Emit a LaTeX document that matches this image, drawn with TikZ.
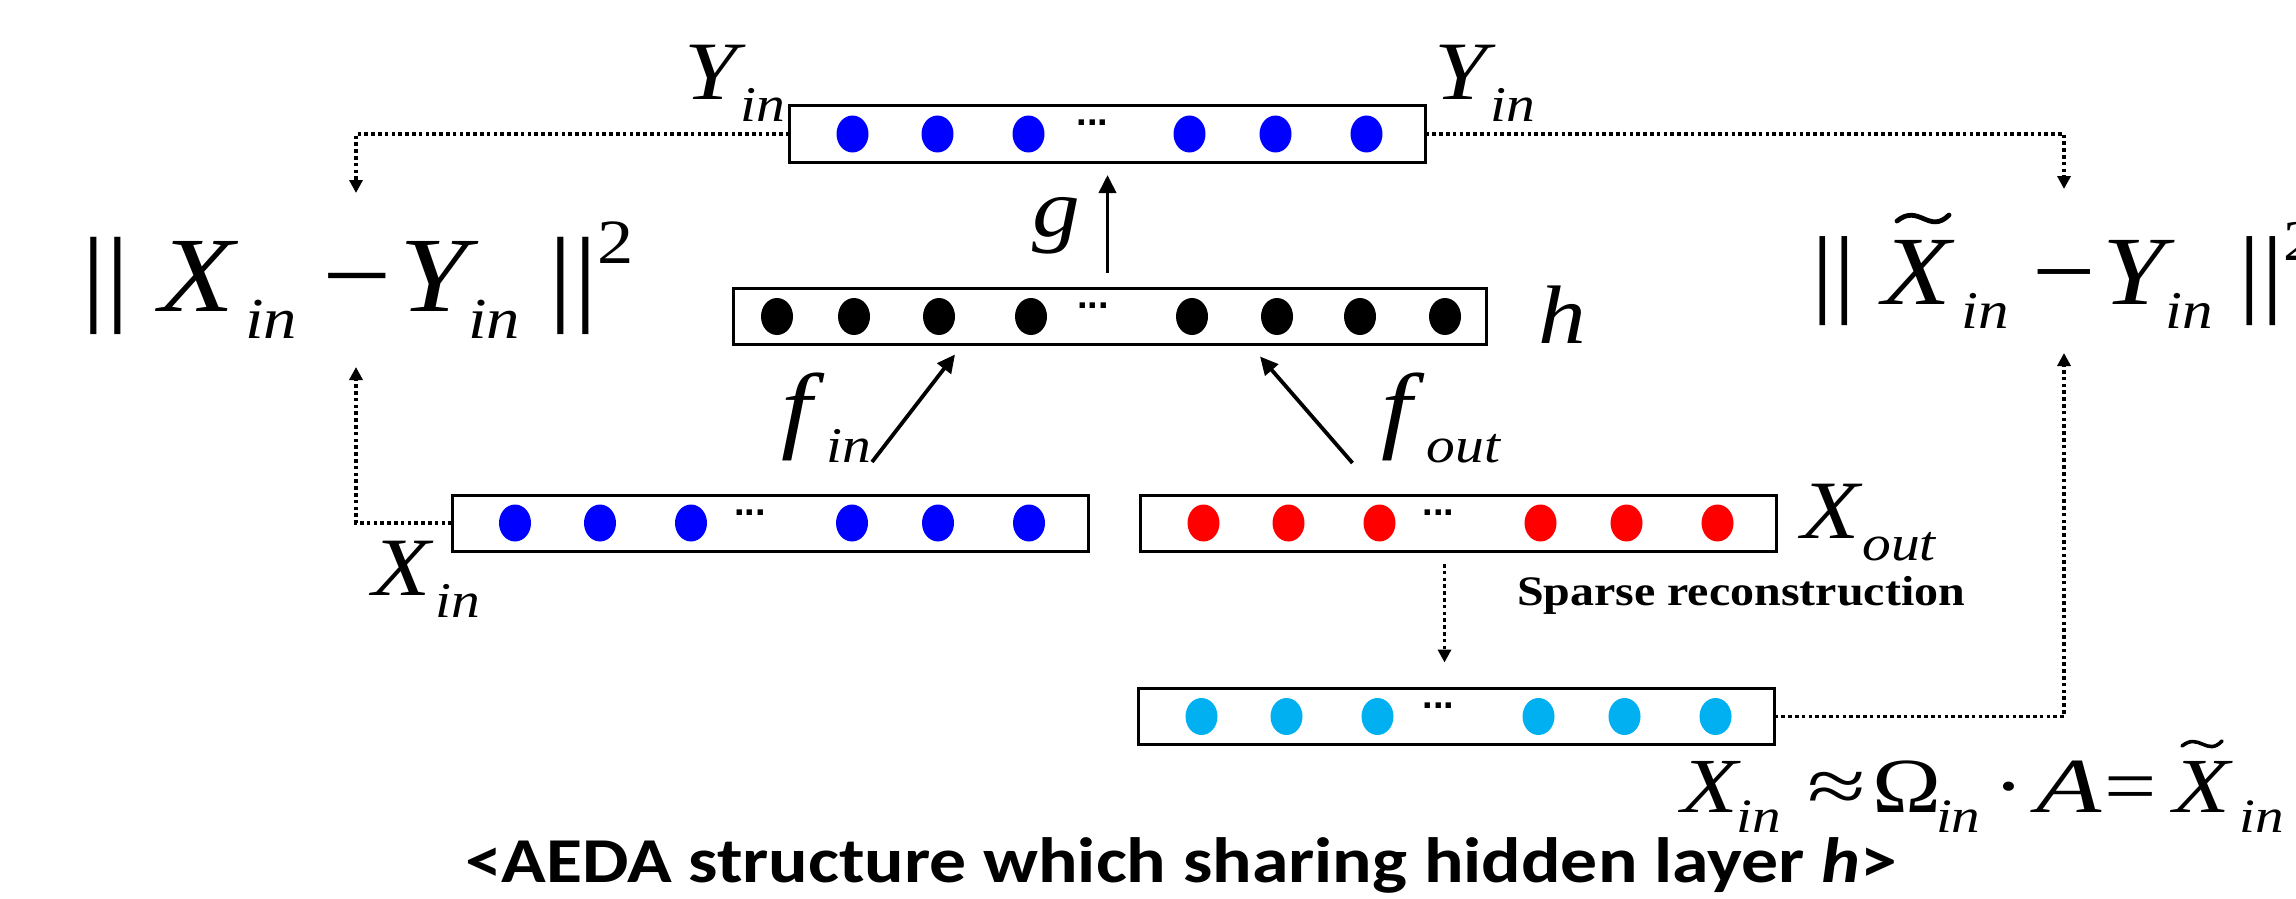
\documentclass[tikz,border=0pt]{standalone}
\usepackage{fontspec}
\setmainfont{Liberation Serif}
\newfontfamily\capfont{Carlito}
\newfontfamily\sansb{Liberation Sans}
\usetikzlibrary{arrows.meta,calc}
\definecolor{ltblue}{RGB}{0,176,240}
\newcommand\fsz[1]{\fontsize{#1}{#1}\selectfont}
\newcommand\lsub[3]{\raisebox{-#1}{\fsz{#2}\textit{#3}}}
\newcommand\normtxt{\fsz{53.5pt}||\kern12.5pt\textit{X}\kern3pt\lsub{13.5pt}{29pt}{in}\kern11.3pt−\kern3.1pt\textit{Y}\kern-4.6pt\lsub{13.5pt}{29pt}{in}\kern12.3pt||\raisebox{24pt}{\fsz{31.5pt}2}}
\newcommand\recontxt{\fsz{39pt}\textit{X}\kern-1.7pt\lsub{10pt}{24pt}{in}\kern10.9pt\scalebox{1.15}[1]{≈}\kern2.7pt Ω\kern-2.1pt\lsub{10pt}{24pt}{in}\kern5.3pt·\kern5.2pt\scalebox{1.15}[1]{\textit{A}}\kern0.9pt=\kern7.3pt\textit{X}\kern2.6pt\lsub{10pt}{24pt}{in}}
\newcommand\varlab[3]{\scalebox{1.15}[1]{\fsz{41.5pt}\textit{#2}\kern#1\lsub{11pt}{25pt}{#3}}}
\newcommand\flab[1]{\scalebox{1.15}[1]{\fsz{48pt}\textit{f}\kern1pt\lsub{11pt}{25pt}{#1}}}
\newcommand\oneletter[1]{\scalebox{1.15}[1]{\fsz{41.5pt}\textit{#1}}}
\begin{document}
\begin{tikzpicture}[x=0.5pt,y=-0.5pt,
  layerbox/.style={draw, line width=1.5pt, minimum width=318pt, minimum height=28pt, inner sep=0pt, outer sep=0pt},
  txt/.style={inner sep=0pt, outer sep=0pt},
  ellip/.style={inner sep=0pt, outer sep=0pt, font=\sansb\bfseries\fsz{19pt}},
  dotline/.style={line width=1.8pt, dash pattern=on 1.8pt off 1.6pt, -{Triangle[length=6.5pt,width=6.5pt]}},
  solidarrow/.style={line width=1.9pt, -{Triangle[length=9pt,width=8.5pt]}},
  tildesty/.style={line width=2.4pt, line cap=round}]
\useasboundingbox (0,0) rectangle (2296,899);

% layer boxes
\node[layerbox] (ytop) at (1107.5,134) {};
\node[layerbox, minimum width=376.5pt] (hbox) at (1109.5,316.5) {};
\node[layerbox] (xin) at (770,523) {};
\node[layerbox] (xout) at (1458.5,523) {};
\node[layerbox] (xrec) at (1456.5,716.5) {};

% units
\foreach \dx in {63,148,239,400,486,577}
  \fill[blue] ($(ytop.west)+(\dx,0)$) ellipse [x radius=8pt, y radius=9.25pt];
\foreach \dx in {44,121,206,298,459,544,627,712}
  \fill[black] ($(hbox.west)+(\dx,0)$) ellipse [x radius=8pt, y radius=9.25pt];
\foreach \dx in {63,148,239,400,486,577}
  \fill[blue] ($(xin.west)+(\dx,0)$) ellipse [x radius=8pt, y radius=9.25pt];
\foreach \dx in {63,148,239,400,486,577}
  \fill[red] ($(xout.west)+(\dx,0)$) ellipse [x radius=8pt, y radius=9.25pt];
\foreach \dx in {63,148,239,400,486,577}
  \fill[ltblue] ($(xrec.west)+(\dx,0)$) ellipse [x radius=8pt, y radius=9.25pt];

\node[ellip, anchor=base] (e1) at ($(ytop.west)+(303,-8)$) {...};
\node[ellip, anchor=base] (e2) at ($(hbox.west)+(360,-8)$) {...};
\node[ellip, anchor=base] (e3) at ($(xin.west)+(298,-8)$) {...};
\node[ellip, anchor=base] (e4) at ($(xout.west)+(298,-8)$) {...};
\node[ellip, anchor=base] (e5) at ($(xrec.west)+(300,-8)$) {...};

% labels
\node[txt, anchor=base west] (ylabL) at (684,100) {\varlab{-2pt}{Y}{in}};
\node[txt, anchor=base west] (ylabR) at (1434,100) {\varlab{-2pt}{Y}{in}};
\node[txt, anchor=base west] (glab) at (1032,236) {\oneletter{g}};
\node[txt, anchor=base west] (hlab) at (1538,343) {\oneletter{h}};
\node[txt, anchor=base west] (finlab) at (781,440) {\flab{in}};
\node[txt, anchor=base west] (foutlab) at (1381,440) {\flab{out}};
\node[txt, anchor=base west] (xinlab) at (372,595) {\varlab{1pt}{X}{in}};
\node[txt, anchor=base west] (xoutlab) at (1801,538) {\varlab{0pt}{X}{out}};
\node[txt, anchor=base west] (sparse) at (1517,605) {\resizebox{224pt}{\height}{\bfseries\fsz{21pt}Sparse reconstruction}};

% formulas
\node[txt, anchor=base west] (lossL) at (81,311) {\scalebox{1.15}[1]{\normtxt}};
\node[txt, anchor=base west] (lossR) at (1811,304) {\scalebox{1.052}[0.915]{\normtxt}};
\draw[tildesty] (1897,221) .. controls (1919,203) and (1929,235) .. (1949,215);
\node[txt, anchor=base west] (recon) at (1681,812) {\scalebox{1.19}[1]{\recontxt}};
\draw[tildesty, line width=1.8pt] (2182,746) .. controls (2199,732) and (2207,757) .. (2222,741);

% caption
\node[txt, anchor=base west] (caption) at (465,882) {\resizebox{716pt}{\height}{\capfont\bfseries\fsz{32pt}<AEDA structure which sharing hidden layer \textit{h}>}};

% solid arrows
\coordinate (gtail) at ($(ytop.south |- hbox.north)+(0,-16)$);
\coordinate (gtip) at ($(ytop.south)+(0,13)$);
\draw[solidarrow] (gtail) -- (gtip);
\draw[solidarrow] ($(xin.north west)+(420,-33)$) -- ($(hbox.south west)+(222,10)$);
\draw[solidarrow] ($(xout.north west)+(212,-32)$) -- ($(hbox.south west)+(527,12)$);

% dotted connectors
\coordinate (tl1) at (356,193);
\coordinate (tr1) at (2064,189);
\coordinate (tl2) at (356,367);
\coordinate (tr2) at (2064,353);
\draw[dotline] (ytop.west) -| (tl1);
\draw[dotline] (ytop.east) -| (tr1);
\draw[dotline] (xin.west) -| (tl2);
\draw[dotline] (xrec.east) -| (tr2);
\coordinate (sp1) at ($(xout.south west)+(304,13)$);
\coordinate (sp2) at ($(xrec.north west)+(306,-26)$);
\draw[dotline] (sp1) -- (sp2);
\end{tikzpicture}
\end{document}
